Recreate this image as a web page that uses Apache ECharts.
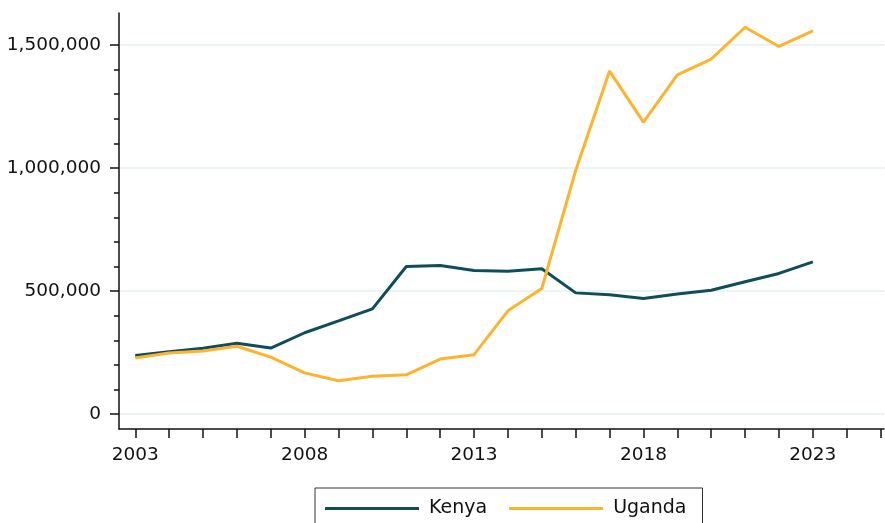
<!DOCTYPE html>
<html>
<head>
<meta charset="utf-8">
<script src="https://cdn.jsdelivr.net/npm/echarts@6/dist/echarts.min.js"></script>
<style>
  html, body { margin: 0; padding: 0; background: #fff; }
  #chart { width: 885px; height: 523px; }
</style>
</head>
<body>
<div id="chart"></div>
<script>
// values
const years = [2003, 2004, 2005, 2006, 2007, 2008, 2009, 2010, 2011, 2012, 2013,
  2014, 2015, 2016, 2017, 2018, 2019, 2020, 2021, 2022, 2023]
const kenya = [239000, 254000, 268000, 288000, 269000, 331000, 379000, 428000, 600000,
  604000, 584000, 581000, 591000, 493000, 485000, 470000, 488000, 504000, 538000, 572000, 619000]
const uganda = [228000, 249000, 257000, 276000, 232000, 168000, 136000, 154000, 160000,
  224000, 242000, 420000, 511000, 990000, 1394000, 1187000, 1379000, 1443000, 1572000, 1494000, 1557000]
const xTicks = [2003, 2004, 2005, 2006, 2007, 2008, 2009, 2010, 2011, 2012, 2013, 2014,
  2015, 2016, 2017, 2018, 2019, 2020, 2021, 2022, 2023, 2024, 2025]
const xLabels = [2003, 2008, 2013, 2018, 2023]
const yLabels = [0, 500000, 1000000, 1500000]
const yMinor = [100000, 200000, 300000, 400000, 600000, 700000, 800000, 900000,
  1100000, 1200000, 1300000, 1400000]

const chart = echarts.init(document.getElementById('chart'))
const font = 'DejaVu Sans'
const yMin = -60000
const yMax = 1630000

const option = {
  animation: false,
  textStyle: { fontFamily: font },
  grid: { left: 119, right: 1, top: 13, bottom: 94 },
  legend: {
    left: 315,
    top: 488,
    padding: [11, 16, 10, 10],
    borderColor: '#333',
    borderWidth: 1,
    icon: 'rect',
    itemWidth: 94,
    itemHeight: 3,
    itemGap: 22,
    textStyle: { fontFamily: font, fontSize: 19, color: '#111', padding: [0, 0, 0, 5] },
    data: ['Kenya', 'Uganda'],
  },
  xAxis: {
    type: 'value',
    min: 2002.52,
    max: 2025.1,
    axisLine: { show: true, onZero: false, lineStyle: { color: '#111', width: 1.5 } },
    axisTick: { show: true, length: 9, customValues: xTicks, lineStyle: { color: '#111', width: 1.5 } },
    axisLabel: {
      customValues: xLabels,
      margin: 17,
      fontSize: 18.5,
      color: '#111',
      fontFamily: font,
      formatter: (v) => String(v),
    },
    splitLine: { show: false },
  },
  yAxis: [
    {
      type: 'value',
      min: yMin,
      max: yMax,
      position: 'left',
      axisLine: { show: true, lineStyle: { color: '#111', width: 1.5 } },
      axisTick: { show: true, length: 9, customValues: yLabels, lineStyle: { color: '#111', width: 1.5 } },
      axisLabel: {
        customValues: yLabels,
        margin: 18,
        fontSize: 18.5,
        color: '#111',
        fontFamily: font,
        formatter: (v) => v.toLocaleString('en-US'),
      },
      splitLine: { show: true, lineStyle: { color: '#e6eff0', width: 1.5 } },
    },
    {
      type: 'value',
      min: yMin,
      max: yMax,
      position: 'left',
      axisLine: { show: false },
      axisTick: { show: true, length: 5, customValues: yMinor, lineStyle: { color: '#111', width: 1.5 } },
      axisLabel: { show: false },
      splitLine: { show: false },
    },
  ],
  series: [
    {
      name: 'Kenya',
      type: 'line',
      data: years.map((y, i) => [y, kenya[i]]),
      showSymbol: false,
      color: '#0f4d5b',
      lineStyle: { width: 3, color: '#0f4d5b' },
    },
    {
      name: 'Uganda',
      type: 'line',
      data: years.map((y, i) => [y, uganda[i]]),
      showSymbol: false,
      color: '#fdb32e',
      lineStyle: { width: 3, color: '#fdb32e' },
    },
  ],
}
chart.setOption(option)
</script>
</body>
</html>
